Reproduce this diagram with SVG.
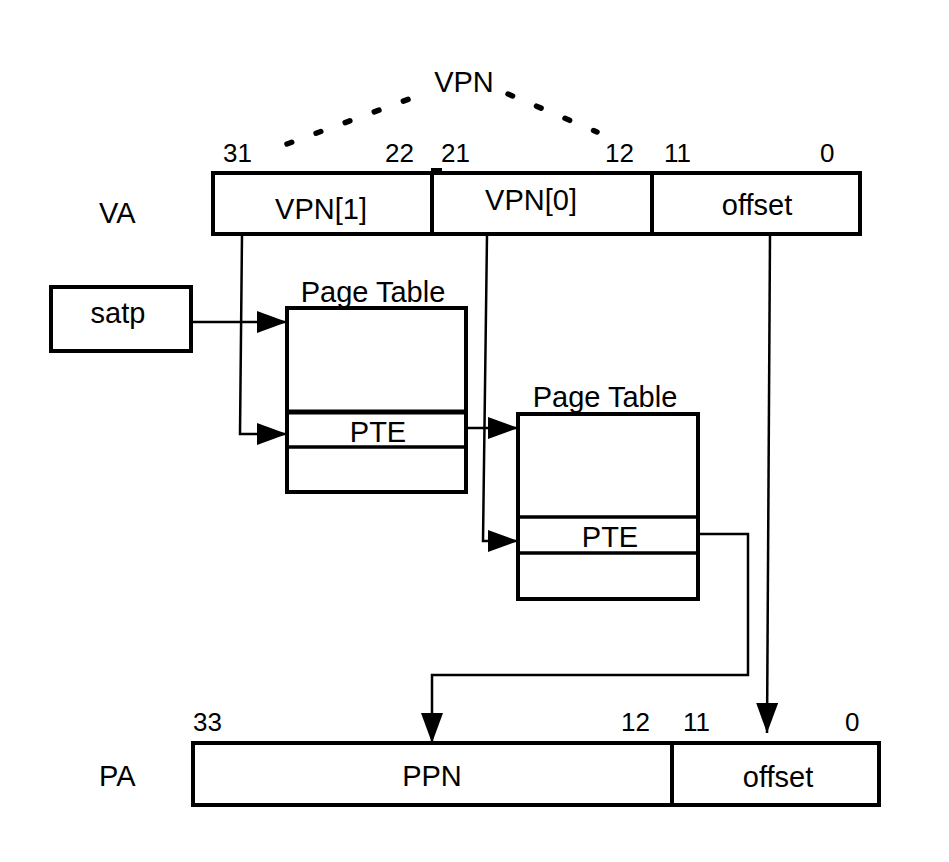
<svg xmlns="http://www.w3.org/2000/svg" width="949" height="862" viewBox="0 0 949 862">
<style>
  .box{fill:#fff;stroke:#000;stroke-width:4}
  .div{stroke:#000;stroke-width:4}
  .conn{fill:none;stroke:#000;stroke-width:2.5}
  .dot{fill:none;stroke:#000;stroke-width:5.5;stroke-linecap:round;stroke-dasharray:5 26}
  text{font-family:"Liberation Sans",Arial,sans-serif;fill:#000}
  .lbl{font-size:29px}
  .num{font-size:26px}
  .mid{text-anchor:middle}
</style>
<defs>
  <marker id="ah" markerUnits="userSpaceOnUse" markerWidth="31" markerHeight="22" refX="30" refY="11" orient="auto" viewBox="0 0 31 22">
    <path d="M0,0 L30,11 L0,22 z" fill="#000"/>
  </marker>
</defs>
<rect width="949" height="862" fill="#fff"/>

<g id="vpn-brace">
  <text class="lbl mid" x="464" y="92">VPN</text>
  <line class="dot" x1="287" y1="144" x2="428" y2="92"/>
  <line class="dot" x1="508" y1="94" x2="597" y2="132"/>
</g>

<g id="va">
  <text class="lbl" x="99" y="223">VA</text>
  <text class="num" x="223" y="162">31</text>
  <text class="num" x="385" y="162">22</text>
  <text class="num" x="441" y="162">21</text>
  <text class="num" x="605" y="162">12</text>
  <text class="num" x="664" y="162">11</text>
  <text class="num" x="820" y="162">0</text>
  <rect class="box" x="213" y="173" width="647" height="61"/>
  <line class="div" x1="432" y1="173" x2="432" y2="234"/>
  <line class="div" x1="652" y1="173" x2="652" y2="234"/>
  <rect x="431" y="168" width="11" height="5" fill="#000"/>
  <text class="lbl mid" x="321" y="219">VPN[1]</text>
  <text class="lbl mid" x="531" y="210">VPN[0]</text>
  <text class="lbl mid" x="757" y="215">offset</text>
</g>

<g id="satp">
  <rect class="box" x="51" y="287" width="140" height="64"/>
  <text class="lbl mid" x="118" y="323">satp</text>
</g>

<g id="pt1">
  <text class="lbl mid" x="373" y="302">Page Table</text>
  <rect class="box" x="287" y="308" width="179" height="184"/>
  <line stroke="#000" stroke-width="5" x1="287" y1="412" x2="466" y2="412"/>
  <line stroke="#000" stroke-width="3.5" x1="287" y1="447" x2="466" y2="447"/>
  <text class="lbl mid" x="378" y="442">PTE</text>
</g>

<g id="pt2">
  <text class="lbl mid" x="605" y="407">Page Table</text>
  <rect class="box" x="518" y="414" width="180" height="185"/>
  <line stroke="#000" stroke-width="3.5" x1="518" y1="517" x2="698" y2="517"/>
  <line stroke="#000" stroke-width="3.5" x1="518" y1="553" x2="698" y2="553"/>
  <text class="lbl mid" x="610" y="547">PTE</text>
</g>

<g id="pa">
  <text class="lbl" x="99" y="786">PA</text>
  <text class="num" x="193" y="731">33</text>
  <text class="num" x="621" y="731">12</text>
  <text class="num" x="683" y="731">11</text>
  <text class="num" x="845" y="731">0</text>
  <rect class="box" x="193" y="743" width="686" height="62"/>
  <line class="div" x1="672" y1="743" x2="672" y2="805"/>
  <text class="lbl mid" x="432" y="786">PPN</text>
  <text class="lbl mid" x="778" y="787">offset</text>
</g>

<g id="connectors">
  <path class="conn" d="M191,322 L287,322" marker-end="url(#ah)"/>
  <path class="conn" d="M242,235 L240,434 L287,434" marker-end="url(#ah)"/>
  <path class="conn" d="M466,428 L518,428" marker-end="url(#ah)"/>
  <path class="conn" d="M487,235 L483,541 L518,541" marker-end="url(#ah)"/>
  <path class="conn" d="M698,534 L748,534 L748,675 L432,675 L432,743" marker-end="url(#ah)"/>
  <path class="conn" d="M770,235 L767,733" marker-end="url(#ah)"/>
</g>
</svg>
